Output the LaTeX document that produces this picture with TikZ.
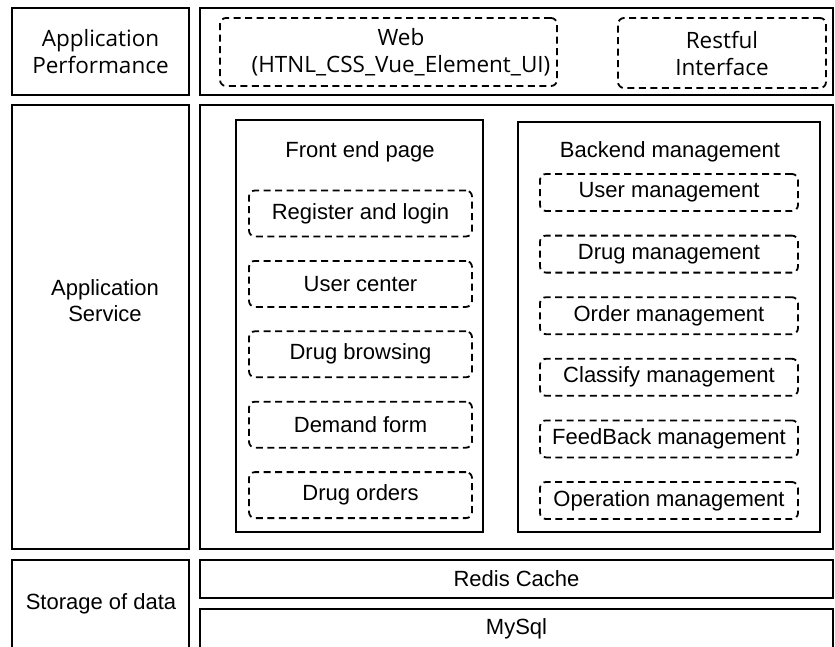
\documentclass[tikz,border=0pt]{standalone}
\usepackage{fontspec}
\setmainfont{Liberation Sans}
\newfontfamily\yahei{Open Sans}

\begin{document}
\begin{tikzpicture}[x=1pt,y=-1pt,
  every node/.style={inner sep=0pt,align=center,font=\fontsize{22}{26}\selectfont},
  yh/.style={font=\yahei\fontsize{22.5}{27}\selectfont},
  layer/.style={draw,line width=2pt},
  panel/.style={draw,line width=1.8pt},
  part/.style={draw,line width=1.8pt,dash pattern=on 7pt off 4.5pt,rounded corners=6pt}]
\useasboundingbox (0,0) rectangle (835,646);
% layer titles
\node[layer,yh,minimum width=177pt,minimum height=87pt] (perf) at (100.5,51.5) {Application\\Performance};
\node[layer,minimum width=177pt,minimum height=444pt] (service) at (100.5,327) {};
\node (servicetxt) at (105,301) {Application\\Service};
\node[layer,minimum width=177pt,minimum height=101pt,anchor=north] (storage) at (100.5,559) {};
\node (storagetxt) at (101,604) {Storage of data};
% layer contents
\node[layer,minimum width=633pt,minimum height=87pt] (toprow) at (516.5,51.5) {};
\node[layer,minimum width=633pt,minimum height=444pt] (midrow) at (516.5,327) {};
\node[layer,minimum width=633pt,minimum height=38pt] (redis) at (516.5,579) {Redis Cache};
\node[layer,minimum width=633pt,minimum height=52pt,anchor=north] (mysql) at (516.5,608) {};
\node (mysqltxt) at (516.5,629) {MySql};
% presentation
\node[part,minimum width=337pt,minimum height=68pt] (web) at (388.5,52) {};
\node[yh] (webtxt) at (401,52) {Web\\(HTNL\_CSS\_Vue\_Element\_UI)};
\node[part,yh,minimum width=208pt,minimum height=70pt] (rest) at (722,53) {Restful\\Interface};
% service modules
\node[panel,minimum width=247pt,minimum height=412pt] (front) at (359.5,326) {};
\node (fronttitle) at (360,152) {Front end page};
\foreach \t [count=\i] in {Register and login,User center,Drug browsing,Demand form,Drug orders}
    \node[part,minimum width=223pt,minimum height=46pt] (fe\i) at (360.5,{213.5+70.4*(\i-1)}) {\t};
\node[panel,minimum width=302pt,minimum height=410pt] (back) at (669,327) {};
\node (backtitle) at (670,152) {Backend management};
\foreach \t [count=\i] in {User management,Drug management,Order management,Classify management,FeedBack management,Operation management}
    \node[part,minimum width=258pt,minimum height=37pt] (be\i) at (669,{192.5+61.6*(\i-1)}) {\t};
\end{tikzpicture}
\end{document}
